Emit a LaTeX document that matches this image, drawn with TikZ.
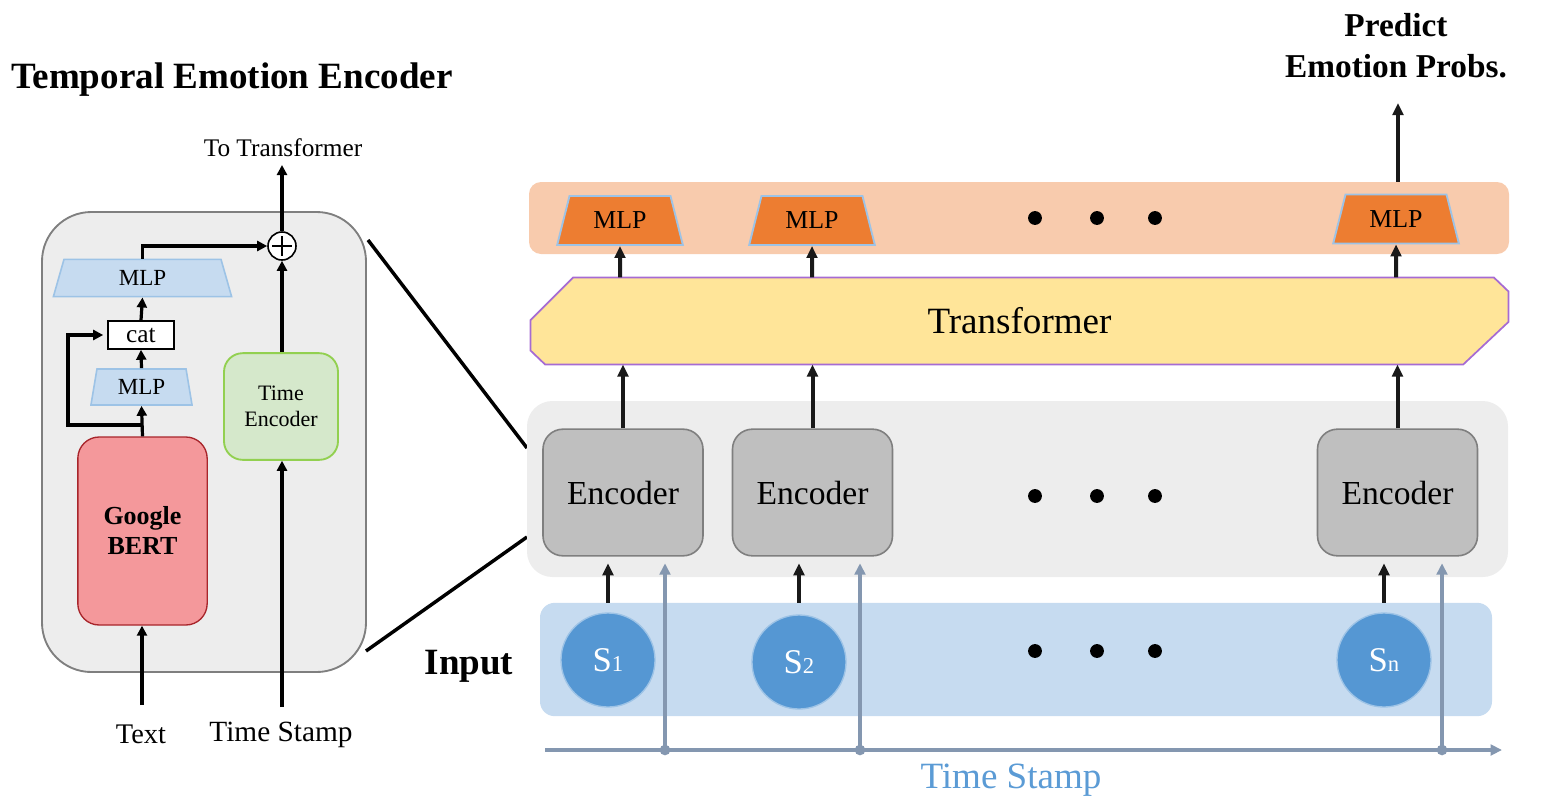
\documentclass[tikz,border=0pt]{standalone}
\usepackage{fontspec}
\setmainfont{Liberation Serif}
\usepackage{tikz}
\usetikzlibrary{arrows.meta,shapes.geometric,backgrounds}
\newcommand{\fsz}[2]{\fontsize{#1pt}{#2pt}\selectfont}
\definecolor{boxgray}{HTML}{EDEDED}
\definecolor{edgegray}{HTML}{7F7F7F}
\definecolor{encgray}{HTML}{BFBFBF}
\definecolor{lightblue}{HTML}{C6DBF0}
\definecolor{paleblue}{HTML}{9DC3E6}
\definecolor{bertred}{HTML}{F4989B}
\definecolor{bertedge}{HTML}{A8252B}
\definecolor{tegreen}{HTML}{D5E8CB}
\definecolor{teedge}{HTML}{92D050}
\definecolor{peach}{HTML}{F8CBAD}
\definecolor{mlporange}{HTML}{ED7D31}
\definecolor{tfyellow}{HTML}{FFE599}
\definecolor{tfpurple}{HTML}{A66BD3}
\definecolor{sigblue}{HTML}{5597D3}
\definecolor{axisblue}{HTML}{8497B0}
\definecolor{tsblue}{HTML}{5B9BD5}
\tikzset{
	band/.style={rectangle, rounded corners=#1, inner sep=0pt},
	encnode/.style={rectangle, draw=edgegray, fill=encgray, line width=1.2pt, rounded corners=15pt,
		minimum width=120pt, minimum height=95pt, font=\fsz{25.2}{28}},
	mlpo/.style={trapezium, trapezium stretches=true, trapezium left angle=69, trapezium right angle=69,
		draw=paleblue, fill=mlporange, line width=1.4pt, inner sep=0pt,
		minimum width=94.5pt, minimum height=36.75pt, font=\fsz{19.4}{20}},
	mlpb/.style={trapezium, trapezium stretches=true, trapezium left angle=78, trapezium right angle=78,
		draw=paleblue, fill=lightblue, line width=1.2pt, inner sep=0pt, font=\fsz{17.3}{18}},
	sig/.style={circle, draw=paleblue, fill=sigblue, line width=1pt, minimum size=70.5pt, inner sep=0pt,
		text=white, font=\fsz{26}{26}},
	larr/.style={-{Triangle[length=7.5pt,width=7.5pt]}, line width=2.4pt},
	arr/.style={-{Triangle[length=9pt,width=8pt]}, line width=3pt, black!90},
	tarr/.style={-{Triangle[length=8.5pt,width=8pt]}, line width=2.5pt, axisblue},
}

\begin{document}
\begin{tikzpicture}[x=0.75pt, y=-0.75pt]
	\useasboundingbox (0,0) rectangle (1552,800);

	\node[font=\fsz{27.8}{30}\bfseries] (title) at (232,80) {Temporal Emotion Encoder};
	\node[band=37pt, fill=boxgray, draw=edgegray, line width=1.4pt, minimum width=243pt, minimum height=345pt] (panel) at (204,442) {};
	\node[mlpb, minimum width=134pt, minimum height=28pt] (mlpA) at (142.5,278) {MLP};
	\node[draw, line width=1.2pt, fill=white, minimum width=49.5pt, minimum height=21pt, inner sep=0pt, font=\fsz{19}{20}] (cat) at (141,335) {cat};
	\node[mlpb, minimum width=76pt, minimum height=27pt] (mlpB) at (141.5,387) {MLP};
	\node[draw=bertedge, fill=bertred, line width=1pt, rounded corners=16pt, minimum width=97pt, minimum height=141pt,
		align=center, font=\fsz{19.5}{22.5}\bfseries] (bert) at (142.5,531) {Google\\BERT};
	\node[draw=teedge, fill=tegreen, line width=1.4pt, rounded corners=14pt, minimum width=85.5pt, minimum height=80pt,
		align=center, font=\fsz{16.5}{19.5}] (timeenc) at (281,406.5) {Time\\Encoder};
	\node[circle, draw, line width=1.2pt, fill=white, minimum size=21pt, inner sep=0pt,
		path picture={\draw[line width=1.2pt] ([xshift=3pt]path picture bounding box.west) -- ([xshift=-3pt]path picture bounding box.east)
			([yshift=-3pt]path picture bounding box.north) -- ([yshift=3pt]path picture bounding box.south);}] (plus) at (282,246) {};
	\node[font=\fsz{19}{20}] (tolab) at (283,148) {To Transformer};
	\node[font=\fsz{21.3}{22}] (textlab) at (141,734) {Text};
	\node[font=\fsz{22}{23}] (tslab) at (281,735) {Time Stamp};
	\coordinate (textin) at (142,705);
	\coordinate (tsin) at (282,707);
	\coordinate (plusout) at (282,165);
	\coordinate (brk) at (142,425);
	\coordinate (loop) at (68,425);

	\draw[larr] (textin) -- (textin |- bert.south);
	\draw[larr] (tsin) -- (tsin |- timeenc.south);
	\draw[larr] (plus.south |- timeenc.north) -- (plus.south);
	\draw[larr] (plus.north) -- (plusout);
	\draw[larr] (bert.north) -- (mlpB.south);
	\draw[larr] (mlpB.north) -- (cat.south);
	\draw[larr] (cat.north) -- (mlpA.south);
	\draw[larr] (mlpA.north) |- (plus.west);
	\draw[larr] (brk) -- (loop) |- ([xshift=-3pt]cat.west);

	\coordinate (z1) at (368,240);
	\coordinate (z2) at (527,448);
	\coordinate (z3) at (366,651);
	\coordinate (z4) at (527,537);
	\draw[line width=2.6pt] (z1) -- (z2) (z3) -- (z4);

	\node[band=9pt, fill=peach, minimum width=735pt, minimum height=54pt] (outband) at (1019,218) {};
	\node[mlpo] (mlp1) at (620,220.5) {MLP};
	\node[mlpo] (mlp2) at (812,220.5) {MLP};
	\node[mlpo] (mlp3) at (1396,219) {MLP};
	\node[align=center, font=\fsz{25}{31}\bfseries] (predict) at (1396,46) {Predict\\Emotion Probs.};
	\coordinate (pout) at (1398,103);
	\draw[arr] (pout |- outband.north) -- (pout);

	\node[rectangle, inner sep=0pt, minimum width=733pt, minimum height=65pt, font=\fsz{27.8}{30}] (tf) at (1019.5,321) {Transformer};
	\begin{scope}[on background layer]
		\draw[fill=tfyellow, draw=tfpurple, line width=1.3pt]
			([xshift=32pt]tf.north west) -- ([xshift=-11pt]tf.north east) -- ([yshift=-10.5pt]tf.north east)
			-- ([yshift=32pt]tf.south east) -- ([xshift=-34pt]tf.south east) -- ([xshift=11pt]tf.south west)
			-- ([yshift=10.5pt]tf.south west) -- ([yshift=-32pt]tf.north west) -- cycle;
	\end{scope}
	\draw[arr] (mlp1 |- tf.north) -- (mlp1.south);
	\draw[arr] (mlp2 |- tf.north) -- (mlp2.south);
	\draw[arr] (mlp3 |- tf.north) -- (mlp3.south);

	\node[band=19pt, fill=boxgray, minimum width=735.75pt, minimum height=132pt] (encband) at (1017.5,489) {};
	\node[encnode] (enc1) at (623,492.5) {Encoder};
	\node[encnode] (enc2) at (812.5,492.5) {Encoder};
	\node[encnode] (enc3) at (1397.5,492.5) {Encoder};
	\draw[arr] (enc1.north) -- (enc1.north |- tf.south);
	\draw[arr] (enc2.north) -- (enc2.north |- tf.south);
	\draw[arr] (enc3.north) -- (enc3.north |- tf.south);

	\node[band=11pt, fill=lightblue, minimum width=714pt, minimum height=85pt] (inband) at (1016,659.5) {};
	\node[font=\fsz{27.8}{30}\bfseries] (inlab) at (469,666) {Input};
	\node[sig] (s1) at (608,660) {S{\fsz{17}{17}1}};
	\node[sig] (s2) at (799,662) {S{\fsz{17}{17}2}};
	\node[sig] (sn) at (1384,660) {S{\fsz{17}{17}n}};
	\draw[arr, shorten >=5pt] (s1 |- inband.north) -- (s1 |- enc1.south);
	\draw[arr, shorten >=5pt] (s2 |- inband.north) -- (s2 |- enc2.south);
	\draw[arr, shorten >=5pt] (sn |- inband.north) -- (sn |- enc3.south);

	\foreach \y in {218,496,651}
		\foreach \x in {1035,1097,1155}
			\fill (\x,\y) circle (5.2pt);

	\coordinate (ax0) at (545,750);
	\coordinate (ax1) at (1502,750);
	\coordinate (t1) at (665,750);
	\coordinate (t2) at (860,750);
	\coordinate (t3) at (1442,750);
	\draw[tarr, line width=3pt] (ax0) -- (ax1);
	\draw[tarr, shorten >=5pt] (t1) -- (t1 |- enc1.south);
	\draw[tarr, shorten >=5pt] (t2) -- (t2 |- enc2.south);
	\draw[tarr, shorten >=5pt] (t3) -- (t3 |- enc3.south);
	\fill[axisblue] (t1) circle (4pt) (t2) circle (4pt) (t3) circle (4pt);
	\node[font=\fsz{27.8}{30}, text=tsblue] (tslab2) at (1011,780) {Time Stamp};
\end{tikzpicture}
\end{document}
